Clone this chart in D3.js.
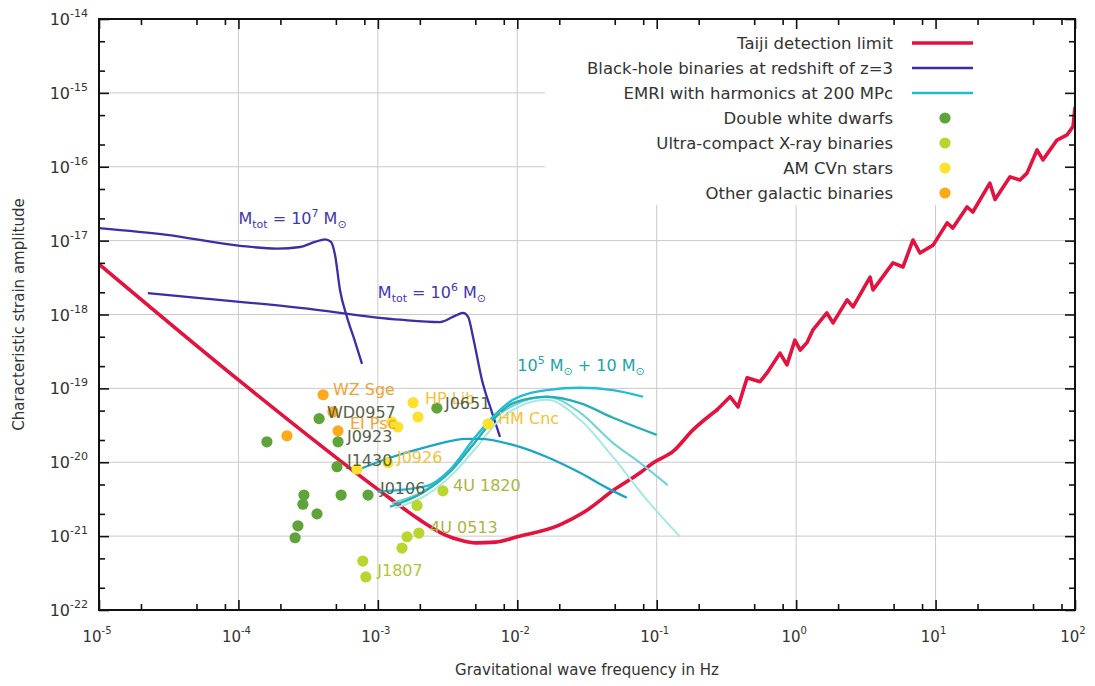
<!DOCTYPE html>
<html><head><meta charset="utf-8">
<script src="https://cdn.jsdelivr.net/npm/d3@7"></script>
<style>
body{margin:0;background:#fff;}
svg{display:block;font-family:"DejaVu Sans",Verdana,sans-serif;}
text{white-space:pre;}
</style>
</head><body>
<svg id="c" width="1095" height="686"></svg>
<script>
// ---------- DATA ----------
const xTickExponents = [-5, -4, -3, -2, -1, 0, 1, 2];
const yTickExponents = [-14, -15, -16, -17, -18, -19, -20, -21, -22];

const taijiFreq = [1e-5, 1e-4, 1e-3, 2e-3, 3e-3, 4e-3, 5e-3, 7e-3, 1e-2, 2e-2, 3e-2, 5e-2, 0.076, 0.094, 0.131, 0.182, 0.27, 0.336, 0.383, 0.445, 0.551, 0.618, 0.766, 0.859, 0.98, 1.07, 1.2, 1.32, 1.66, 1.84, 2.32, 2.56, 3.39, 3.56, 4.95, 5.84, 6.89, 7.73, 9.6, 12.1, 13.3, 16.8, 18.5, 24.5, 26.7, 34.2, 40.3, 45.3, 53.4, 58.9, 74.3, 87.7, 96.8, 100];
const taijiStrain = [4.8e-18, 1.3e-19, 4.3e-21, 1.66e-21, 1.05e-21, 8.7e-22, 8.1e-22, 8.3e-22, 9.8e-22, 1.41e-21, 2.1e-21, 4.3e-21, 7.2e-21, 9.8e-21, 1.4e-20, 2.74e-20, 5.1e-20, 7.7e-20, 5.6e-20, 1.39e-19, 1.23e-19, 1.62e-19, 3.0e-19, 2.08e-19, 4.5e-19, 3.3e-19, 4.2e-19, 6.2e-19, 1.05e-18, 7.7e-19, 1.58e-18, 1.27e-18, 3.2e-18, 2.15e-18, 5.0e-18, 4.4e-18, 1.02e-17, 6.8e-18, 8.7e-18, 1.74e-17, 1.48e-17, 2.86e-17, 2.44e-17, 6.0e-17, 3.6e-17, 7.3e-17, 6.6e-17, 8.2e-17, 1.69e-16, 1.24e-16, 2.3e-16, 2.7e-16, 3.5e-16, 6.3e-16];
const taijiSmoothUpTo = 0.27; // frequency where the smooth trough gives way to the jagged part

const bhb7Freq = [1.0e-5, 3.08e-5, 1.03e-4, 1.89e-4, 2.77e-4, 3.54e-4, 4.18e-4, 4.61e-4, 4.93e-4, 5.35e-4, 6.0e-4, 6.86e-4, 7.7e-4];
const bhb7Strain = [1.48e-17, 1.2e-17, 8.5e-18, 7.8e-18, 8.2e-18, 9.6e-18, 1.04e-17, 9.6e-18, 6.4e-18, 2.15e-18, 9.3e-19, 4.3e-19, 2.15e-19];

const bhb6Freq = [2.24e-5, 5.3e-5, 2.77e-4, 1.44e-3, 2.79e-3, 3.70e-3, 4.08e-3, 4.44e-3, 4.81e-3, 5.58e-3, 6.59e-3, 7.52e-3];
const bhb6Strain = [1.95e-18, 1.67e-18, 1.23e-18, 8.5e-19, 7.9e-19, 9.9e-19, 1.05e-18, 9.3e-19, 5.0e-19, 1.3e-19, 4.7e-20, 2.2e-20];

const emriAFreq = [7.2e-4, 1.22e-3, 2.25e-3, 4.35e-3, 5.4e-3, 9.3e-3, 1.63e-2, 2.82e-2, 4.4e-2, 6.1e-2];
const emriAStrain = [7.9e-21, 1.15e-20, 1.62e-20, 2.07e-20, 2.07e-20, 1.72e-20, 1.18e-20, 7.2e-21, 4.5e-21, 3.3e-21];
const emriBFreq = [9.9e-4, 2.25e-3, 3.29e-3, 4.81e-3, 6.37e-3, 9.3e-3, 1.63e-2, 2.82e-2, 4.85e-2, 7.98e-2];
const emriBStrain = [4.0e-21, 4.8e-21, 7.9e-21, 2.0e-20, 3.75e-20, 7.0e-20, 9.5e-20, 1.02e-19, 9.5e-20, 7.7e-20];
const emriCFreq = [1.22e-3, 2.11e-3, 3.29e-3, 4.81e-3, 6.7e-3, 9.3e-3, 1.63e-2, 2.82e-2, 4.85e-2, 0.1];
const emriCStrain = [2.5e-21, 3.9e-21, 7.4e-21, 1.72e-20, 3.75e-20, 6.3e-20, 7.7e-20, 6.3e-20, 4.0e-20, 2.35e-20];
const emriDFreq = [1.26e-3, 2.18e-3, 3.4e-3, 4.98e-3, 6.9e-3, 9.6e-3, 1.63e-2, 2.82e-2, 4.85e-2, 7.6e-2, 0.12];
const emriDStrain = [2.8e-21, 4.2e-21, 8.4e-21, 1.89e-20, 4.0e-20, 6.0e-20, 7.7e-20, 4.7e-20, 1.83e-20, 9.8e-21, 4.9e-21];
const emriEFreq = [1.33e-3, 2.29e-3, 3.57e-3, 5.2e-3, 7.2e-3, 9.96e-3, 1.63e-2, 2.82e-2, 4.85e-2, 8.5e-2, 0.147];
const emriEStrain = [2.4e-21, 3.7e-21, 7.4e-21, 1.67e-20, 3.5e-20, 5.5e-20, 7.0e-20, 3.75e-20, 1.18e-20, 3.1e-21, 9.8e-22];

// source types: 0 double white dwarfs, 1 ultra-compact X-ray binaries, 2 AM CVn, 3 other galactic
const sourceFreq = [4.05e-4, 4.76e-4, 3.79e-4, 2.23e-4, 1.60e-4, 5.18e-4, 5.18e-4, 5.09e-4, 7.08e-4, 1.18e-3, 1.26e-3, 1.39e-3, 1.79e-3, 1.94e-3, 2.65e-3, 6.17e-3, 2.95e-4, 2.90e-4, 3.66e-4, 2.67e-4, 2.55e-4, 5.45e-4, 8.5e-4, 2.93e-3, 1.91e-3, 1.97e-3, 1.62e-3, 1.49e-3, 7.8e-4, 8.2e-4];
const sourceStrain = [8.2e-20, 4.8e-20, 3.9e-20, 2.28e-20, 1.89e-20, 2.66e-20, 1.89e-20, 8.7e-21, 8.1e-21, 9.8e-21, 3.5e-20, 3.0e-20, 6.4e-20, 4.1e-20, 5.4e-20, 3.3e-20, 3.6e-21, 2.7e-21, 2.0e-21, 1.38e-21, 9.5e-22, 3.6e-21, 3.6e-21, 4.1e-21, 2.6e-21, 1.1e-21, 9.8e-22, 6.9e-22, 4.6e-22, 2.8e-22];
const sourceType = [3, 3, 0, 3, 0, 3, 0, 0, 2, 2, 2, 2, 2, 2, 0, 2, 0, 0, 0, 0, 0, 0, 0, 1, 1, 1, 1, 1, 1, 1];

const labelText = ["WZ Sge", "WD0957", "EI Psc", "J0923", "J1430", "J0926", "J0106", "HP Lib", "J0651", "HM Cnc", "4U 1820", "4U 0513", "J1807"];
const labelFreq = [4.76e-4, 4.31e-4, 6.3e-4, 6.0e-4, 6.0e-4, 1.37e-3, 1.035e-3, 2.18e-3, 3.03e-3, 7.28e-3, 3.46e-3, 2.37e-3, 9.9e-4];
const labelStrain = [9.8e-20, 4.8e-20, 3.4e-20, 2.28e-20, 1.08e-20, 1.18e-20, 4.5e-21, 7.4e-20, 6.4e-20, 4.0e-20, 4.9e-21, 1.34e-21, 3.5e-22];
const labelKind = ["orange", "dark", "orange", "dark", "dark", "gold", "dark", "gold", "dark", "gold", "olive", "olive", "lime"];

const legendLabels = ["Taiji detection limit", "Black-hole binaries at redshift of z=3", "EMRI with harmonics at 200 MPc", "Double white dwarfs", "Ultra-compact X-ray binaries", "AM CVn stars", "Other galactic binaries"];

const curveLabelFreq = [1e-4, 1e-3, 1e-2];
const curveLabelStrain = [2.0e-17, 2.0e-18, 2.1e-19];

// ---------- STYLE ----------
const RED = "#e3123f", BLUE = "#3b2ea6", CYAN = "#20bcd4";
const dotColors = ["#5fa33b", "#b9d62f", "#fde12d", "#fda91c"];
const labelColors = {orange: "#f2a333", dark: "#56604a", gold: "#f5c23a", olive: "#adb443", lime: "#b3c53a"};
const emriColors = ["#1ba5c5", "#22bcd5", "#27aeb4", "#72d3d3", "#a6e8e2"];

// ---------- CHART ----------
const svg = d3.select("#c");
const x = d3.scaleLog().domain([1e-5, 1e2]).range([99, 1075]);
const y = d3.scaleLog().domain([1e-22, 1e-14]).range([610, 19]);
const [xL, xR] = x.range();
const [yB, yT] = y.range();

const xMajor = xTickExponents.map(e => Math.pow(10, e));
const yMajor = yTickExponents.map(e => Math.pow(10, e));
const xMinor = [];
xTickExponents.slice(0, -1).forEach(e => [2, 5, 8].forEach(k => xMinor.push(k * Math.pow(10, e))));
const yMinor = [];
yTickExponents.slice(1).forEach(e => [2, 5].forEach(k => yMinor.push(k * Math.pow(10, e))));

// grid
svg.append("g").selectAll("line").data(xMajor.slice(1, -1)).join("line")
  .attr("x1", d => x(d)).attr("x2", d => x(d)).attr("y1", yB).attr("y2", yT)
  .attr("stroke", "#cacaca").attr("stroke-width", 1);
svg.append("g").selectAll("line").data(yMajor.slice(1, -1)).join("line")
  .attr("y1", d => y(d)).attr("y2", d => y(d)).attr("x1", xL).attr("x2", xR)
  .attr("stroke", "#cacaca").attr("stroke-width", 1);

// legend background
svg.append("rect").attr("x", 545).attr("y", yT).attr("width", xR - 545).attr("height", 205 - yT).attr("fill", "#fff");

// clip
svg.append("clipPath").attr("id", "plot").append("rect")
  .attr("x", xL).attr("y", yT).attr("width", xR - xL).attr("height", yB - yT);
const plot = svg.append("g").attr("clip-path", "url(#plot)");

const zip = (f, h) => f.map((v, i) => [v, h[i]]);
const smooth = d3.line().x(d => x(d[0])).y(d => y(d[1])).curve(d3.curveMonotoneX);
const linear = d3.line().x(d => x(d[0])).y(d => y(d[1]));

// curve labels
function massLabel(g, fx, hy, parts, color) {
  const t = g.append("text").attr("x", x(fx)).attr("y", y(hy) + 6).attr("fill", color).attr("font-size", 16);
  parts.forEach(p => {
    const s = t.append("tspan").text(p[0]);
    if (p[1]) s.attr("dy", p[1]);
    if (p[2]) s.attr("font-size", p[2]);
  });
}
massLabel(svg, curveLabelFreq[0], curveLabelStrain[0], [["M"], ["tot", 4, 11], [" = 10", -4], ["7", -7, 11], [" M", 7], ["\u2299", 4, 11]], "#4237ad");
massLabel(svg, curveLabelFreq[1], curveLabelStrain[1], [["M"], ["tot", 4, 11], [" = 10", -4], ["6", -7, 11], [" M", 7], ["\u2299", 4, 11]], "#4237ad");
massLabel(svg, curveLabelFreq[2], curveLabelStrain[2], [["10"], ["5", -7, 11], [" M", 7], ["\u2299", 4, 11], [" + 10 M", -4], ["\u2299", 4, 11]], "#22a3a6");

// source labels
svg.append("g").selectAll("text").data(labelText).join("text")
  .attr("x", (d, i) => x(labelFreq[i])).attr("y", (d, i) => y(labelStrain[i]) + 6)
  .attr("font-size", 16).attr("fill", (d, i) => labelColors[labelKind[i]])
  .text(d => d);

// Taiji: smooth trough + jagged high-frequency part
const taiji = zip(taijiFreq, taijiStrain);
const taijiLow = taiji.filter(d => d[0] <= taijiSmoothUpTo);
const taijiHigh = taiji.filter(d => d[0] >= taijiSmoothUpTo);
[[smooth, taijiLow], [linear, taijiHigh]].forEach(([gen, pts]) => {
  plot.append("path").attr("d", gen(pts))
    .attr("fill", "none").attr("stroke", RED).attr("stroke-width", 3.6)
    .attr("stroke-linejoin", "round").attr("stroke-linecap", "round");
});
// BH binaries
[[bhb7Freq, bhb7Strain], [bhb6Freq, bhb6Strain]].forEach(([f, h]) => {
  plot.append("path").attr("d", smooth(zip(f, h)))
    .attr("fill", "none").attr("stroke", BLUE).attr("stroke-width", 2.3);
});
// EMRI
const emri = [[emriEFreq, emriEStrain], [emriDFreq, emriDStrain], [emriCFreq, emriCStrain], [emriAFreq, emriAStrain], [emriBFreq, emriBStrain]];
const emriCol = [emriColors[4], emriColors[3], emriColors[2], emriColors[0], emriColors[1]];
emri.forEach(([f, h], i) => {
  plot.append("path").attr("d", smooth(zip(f, h)))
    .attr("fill", "none").attr("stroke", emriCol[i]).attr("stroke-width", i < 2 ? 2 : 2.3);
});

// sources
plot.append("g").selectAll("circle").data(sourceFreq).join("circle")
  .attr("cx", d => x(d)).attr("cy", (d, i) => y(sourceStrain[i])).attr("r", 5.6)
  .attr("fill", (d, i) => dotColors[sourceType[i]]);

// ticks
function ticks(axisFn, vals, size, tr) {
  svg.append("g").attr("transform", tr)
    .call(axisFn.tickValues(vals).tickSize(size).tickSizeOuter(0).tickFormat(""))
    .call(g => g.select(".domain").remove())
    .selectAll("line").attr("stroke", "#111").attr("stroke-width", 1.6);
}
ticks(d3.axisBottom(x), xMajor, -10, `translate(0,${yB})`);
ticks(d3.axisBottom(x), xMinor, -6, `translate(0,${yB})`);
ticks(d3.axisTop(x), xMajor, -10, `translate(0,${yT})`);
ticks(d3.axisTop(x), xMinor, -6, `translate(0,${yT})`);
ticks(d3.axisLeft(y), yMajor, -10, `translate(${xL},0)`);
ticks(d3.axisLeft(y), yMinor, -6, `translate(${xL},0)`);
ticks(d3.axisRight(y), yMajor, -10, `translate(${xR},0)`);
ticks(d3.axisRight(y), yMinor, -6, `translate(${xR},0)`);

// frame
svg.append("rect").attr("x", xL).attr("y", yT).attr("width", xR - xL).attr("height", yB - yT)
  .attr("fill", "none").attr("stroke", "#111").attr("stroke-width", 2);

// tick labels
const yl = svg.append("g").selectAll("text").data(yTickExponents).join("text")
  .attr("x", xL - 11).attr("y", e => y(Math.pow(10, e)) + 6).attr("text-anchor", "end").attr("fill", "#333");
yl.append("tspan").attr("font-size", 16).text("10");
yl.append("tspan").attr("font-size", 11).attr("dy", -8).text(e => String(e));

const xl = svg.append("g").selectAll("text").data(xTickExponents).join("text")
  .attr("x", e => x(Math.pow(10, e)) - 2).attr("y", yB + 32).attr("text-anchor", "middle").attr("fill", "#333");
xl.append("tspan").attr("font-size", 15).text("10");
xl.append("tspan").attr("font-size", 10).attr("dy", -8).text(e => String(e));

// axis titles
svg.append("text").attr("x", (xL + xR) / 2).attr("y", 675).attr("text-anchor", "middle")
  .attr("font-size", 15).attr("fill", "#333").text("Gravitational wave frequency in Hz");
svg.append("text").attr("transform", `translate(24,${(yT + yB) / 2}) rotate(-90)`).attr("text-anchor", "middle")
  .attr("font-size", 15).attr("fill", "#333").text("Characteristic strain amplitude");

// legend
const lg = svg.append("g");
const rowY = i => 43 + i * 25;
lg.selectAll("text").data(legendLabels).join("text")
  .attr("x", 893).attr("y", (d, i) => rowY(i) + 6).attr("text-anchor", "end")
  .attr("font-size", 16.5).attr("fill", "#333").text(d => d);
[[RED, 3.6], [BLUE, 2.3], [CYAN, 2.3]].forEach(([c, w], i) => {
  lg.append("line").attr("x1", 912).attr("x2", 973).attr("y1", rowY(i)).attr("y2", rowY(i))
    .attr("stroke", c).attr("stroke-width", w);
});
dotColors.forEach((c, i) => {
  lg.append("circle").attr("cx", 945).attr("cy", rowY(i + 3)).attr("r", 5.6).attr("fill", c);
});
</script>
</body></html>
